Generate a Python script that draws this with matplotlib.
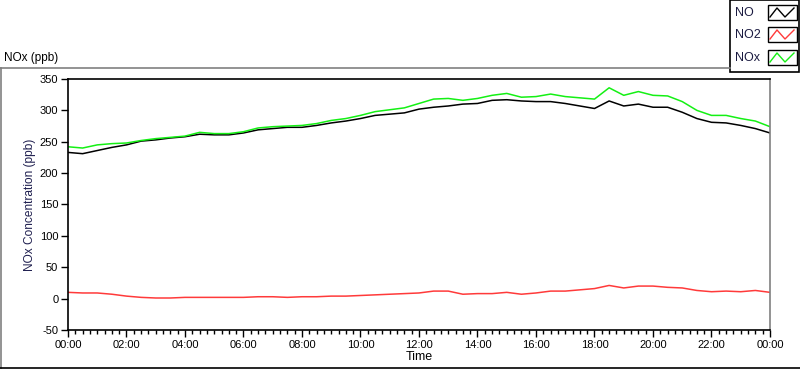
import matplotlib
matplotlib.use("Agg")
import matplotlib.pyplot as plt
from matplotlib.ticker import MultipleLocator, FuncFormatter
from matplotlib.lines import Line2D
from matplotlib.patches import Rectangle

plt.rcParams['font.family'] = ['Liberation Sans', 'DejaVu Sans']
plt.rcParams['axes.unicode_minus'] = False

# half-hour readings, 00:00 .. 24:00
hours = [i * 0.5 for i in range(49)]

no = [233, 231, 236, 241, 245, 251, 253, 256, 258, 262, 261, 261, 264, 269, 271, 273, 273,
      276, 280, 283, 287, 292, 294, 296, 302, 305, 307, 310, 311, 316, 317, 315, 314, 314,
      311, 307, 303, 315, 307, 310, 305, 305, 297, 287, 281, 280, 276, 271, 264]

no2 = [10, 9, 9, 7, 4, 2, 1, 1, 2, 2, 2, 2, 2, 3, 3, 2, 3, 3, 4, 4, 5, 6, 7, 8, 9, 12, 12,
       7, 8, 8, 10, 7, 9, 12, 12, 14, 16, 21, 17, 20, 20, 18, 17, 13, 11, 12, 11, 13, 10]

nox = [242, 240, 245, 247, 248, 252, 255, 257, 259, 265, 263, 263, 266, 272, 274, 275, 276,
       279, 284, 287, 292, 298, 301, 304, 311, 318, 319, 316, 319, 324, 327, 321, 322, 326,
       322, 320, 318, 336, 324, 330, 324, 323, 314, 300, 292, 292, 287, 283, 274]

series_names = ['NO', 'NO2', 'NOx']
series_colors = ['#000000', '#ff3a3a', '#14f014']

fig = plt.figure(figsize=(8.0, 3.69), dpi=100)
fig.patch.set_facecolor('white')
ax = fig.add_axes([0.085, 0.1057, 0.8775, 0.6802])

for vals, c in zip([no, no2, nox], series_colors):
    ax.plot(hours, vals, color=c, lw=1.1)

ax.set_xlim(0, 24)
ax.set_ylim(-50, 350)
ax.xaxis.set_major_locator(MultipleLocator(2))
ax.xaxis.set_minor_locator(MultipleLocator(0.25))
ax.yaxis.set_major_locator(MultipleLocator(50))
ax.xaxis.set_major_formatter(FuncFormatter(lambda v, p: '%02d:00' % (int(round(v)) % 24)))
ax.tick_params(axis='both', which='major', labelsize=8, length=5, width=1, pad=2)
ax.tick_params(axis='x', which='minor', length=3, width=1)

for s in ['top', 'left', 'bottom']:
    ax.spines[s].set_color('black')
    ax.spines[s].set_linewidth(1.2)
ax.spines['right'].set_color('#808080')
ax.spines['right'].set_linewidth(1.2)

ax.set_ylabel('NOx Concentration (ppb)', fontsize=8.6, color='#202050', labelpad=3)
ax.set_xlabel('Time', fontsize=9, labelpad=1)

fig.text(4 / 800, 1 - 58 / 369, 'NOx (ppb)', fontsize=8.5, va='center', ha='left')

# outer panel border
gray = '#808080'
fig.add_artist(Line2D([0, 730 / 800], [1 - 68 / 369] * 2, color=gray, lw=1.2))
fig.add_artist(Line2D([0.5 / 800] * 2, [1 - 68 / 369, 1 / 369], color=gray, lw=1.2))
fig.add_artist(Line2D([0, 1], [1.5 / 369] * 2, color='black', lw=1.2))

# legend panel
fig.add_artist(Rectangle((730 / 800, 1 - 72 / 369), 69 / 800, 72 / 369,
                         facecolor='white', edgecolor='black', lw=1.2))
rows_y = [13, 35, 58]
for name, c, ry in zip(series_names, series_colors, rows_y):
    fig.text(735 / 800, 1 - ry / 369, name, fontsize=9, va='center', ha='left', color='#1a1a40')
    bx0, bx1 = 768, 797
    by0, by1 = ry - 8, ry + 7
    fig.add_artist(Rectangle((bx0 / 800, 1 - by1 / 369), (bx1 - bx0) / 800, (by1 - by0) / 369,
                             facecolor='white', edgecolor='black', lw=1))
    zx = [bx0 + 2, bx0 + 9, bx0 + 17, bx0 + 26]
    zy = [by1 - 3, by0 + 3, by1 - 3, by0 + 3]
    fig.add_artist(Line2D([x / 800 for x in zx], [1 - y / 369 for y in zy], color=c, lw=1))

fig.savefig('out.png', dpi=100)
